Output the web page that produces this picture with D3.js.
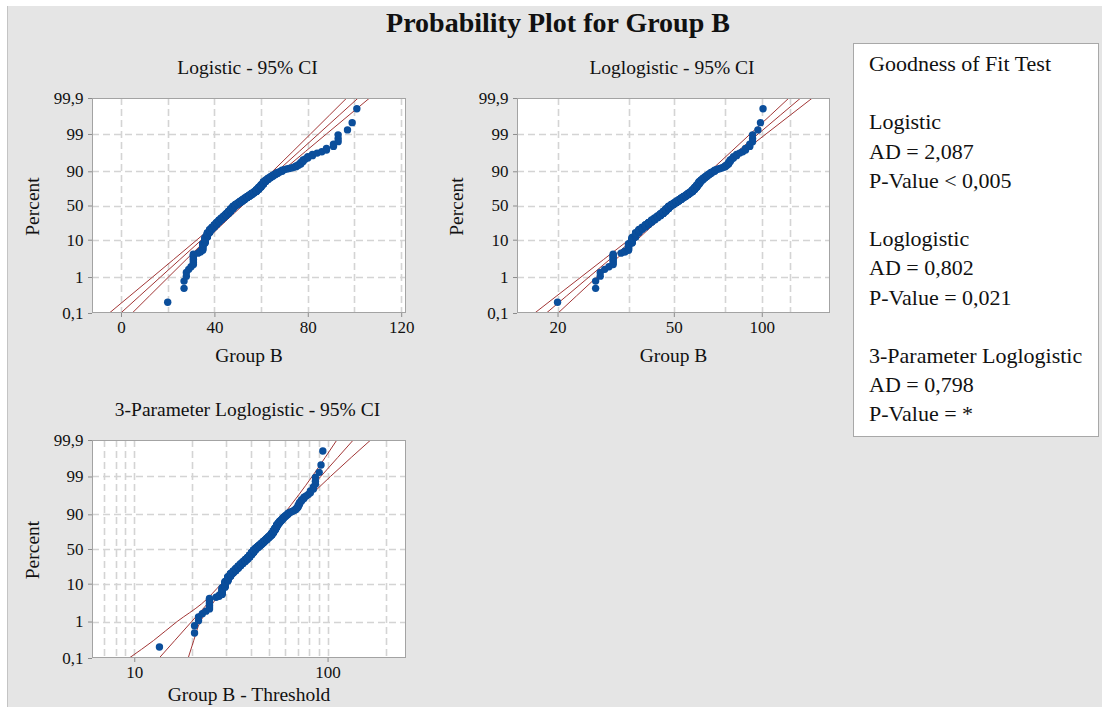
<!DOCTYPE html>
<html>
<head>
<meta charset="utf-8">
<script src="https://cdn.jsdelivr.net/npm/d3@7"></script>
<style>
  body { margin: 0; background: #ffffff; }
  svg { display: block; }
  text { font-family: "Liberation Serif", "Times New Roman", serif; fill: #111; }
</style>
</head>
<body>
<svg id="chart" width="1102" height="707"></svg>
<script>
// ---- Group B sample: distinct values and how many observations share each ----
const groupBValues = [20,27,28,29,30,31,33,34,35,36,37,38,39,40,41,42,43,44,45,46,47,48,49,50,51,52,53,54,55,56,57,58,59,60,61,62,63,64,65,66,67,68,69,70,71,72,73,74,75,76,77,78,79,80,82,84,86,88,91,93,97,99,101];
const groupBCounts = [1,2,2,1,1,8,1,2,10,12,12,10,8,9,10,10,10,10,11,13,14,14,10,9,9,9,9,8,8,8,7,10,10,10,10,6,5,4,4,3,3,2,3,1,1,1,1,1,2,2,3,3,1,2,2,1,1,2,2,3,1,1,1];
const threshold3P = 6.5;

// ---- Percent axis ----
const percentTicks = [0.1, 1, 10, 50, 90, 99, 99.9];
const percentTickLabels = ["0,1", "1", "10", "50", "90", "99", "99,9"];
const percentGrid = [1, 10, 50, 90, 99];

// ---- Fitted lines and 95% confidence bands (x at each percent level) ----
const ciLevels = [0.1, 0.3, 1, 3, 10, 30, 50, 70, 90, 97, 99, 99.7, 99.9];
const logisticFit   = [-0.08, 8.02, 16.93, 25.17, 34.58, 44.52, 50.75, 56.98, 66.92, 76.33, 84.57, 93.48, 101.58];
const logisticLower = [-4.98, 3.84, 13.53, 22.46, 32.59, 43.10, 49.45, 55.56, 64.93, 73.62, 81.17, 89.30, 96.68];
const logisticUpper = [4.82, 12.20, 20.33, 27.88, 36.57, 45.94, 52.05, 58.40, 68.91, 79.04, 87.97, 97.66, 106.48];

const loglogisticFit   = [18.32, 21.49, 25.62, 30.13, 36.28, 44.12, 49.89, 56.41, 68.62, 82.60, 97.16, 115.8, 135.9];
const loglogisticLower = [16.71, 19.88, 24.07, 28.72, 35.14, 43.35, 49.20, 55.42, 66.45, 78.75, 91.31, 107.2, 123.9];
const loglogisticUpper = [20.09, 23.23, 27.26, 31.61, 37.46, 44.91, 50.58, 57.42, 70.85, 86.66, 103.4, 125.2, 149.0];

const threeParamFit   = [13.46, 16.18, 19.82, 23.89, 29.60, 37.10, 42.76, 49.27, 61.78, 76.47, 92.26, 113.0, 135.8];
const threeParamLower = [9.42, 12.56, 16.67, 22.30, 28.27, 36.26, 41.98, 48.15, 59.26, 71.39, 83.18, 97.27, 111.7];
const threeParamUpper = [19.01, 20.30, 21.98, 25.32, 30.64, 37.97, 43.55, 50.42, 64.68, 82.91, 103.5, 132.7, 167.1];

// ---- Axis ticks ----
const logisticXTicks = [0, 40, 80, 120];
const logisticXGrid = [0, 20, 40, 60, 80, 100, 120];
const loglogisticXTicks = [20, 50, 100];
const loglogisticXGrid = [20, 35, 50, 75, 100, 125];
const threeParamXTicks = [10, 100];
const threeParamXGrid = [7, 8, 9, 10, 20, 30, 40, 50, 60, 70, 80, 90, 100, 200];

// ---- Goodness of fit summary ----
const goodnessLines = [
  "Goodness of Fit Test", "",
  "Logistic", "AD = 2,087", "P-Value < 0,005", "",
  "Loglogistic", "AD = 0,802", "P-Value = 0,021", "",
  "3-Parameter Loglogistic", "AD = 0,798", "P-Value = *"
];

// expand the frequency table into the sorted sample
const sample = [];
groupBValues.forEach((v, k) => { for (let j = 0; j < groupBCounts[k]; j++) sample.push(v); });
const n = sample.length;
// median-rank plotting positions (percent)
const points = sample.map((v, i) => ({ v, p: 100 * (i + 1 - 0.3) / (n + 0.4) }));

const logit = p => Math.log(p / (100 - p));

const svg = d3.select("#chart");
const W = 1102, H = 707;

// page background
svg.append("rect").attr("x", 0).attr("y", 0).attr("width", W).attr("height", H).attr("fill", "#ffffff");
svg.append("rect").attr("x", 7).attr("y", 6).attr("width", W - 7).attr("height", H - 6).attr("fill", "#e5e5e5");
svg.append("line").attr("x1", 7.5).attr("x2", 7.5).attr("y1", 6).attr("y2", H).attr("stroke", "#c4c4c4");

svg.append("text")
  .attr("x", 558).attr("y", 32)
  .attr("text-anchor", "middle")
  .style("font-size", "28px").style("font-weight", "bold")
  .text("Probability Plot for Group B");

const panels = [
  {
    id: "p1", title: "Logistic - 95% CI", xLabel: "Group B",
    left: 92, right: 406, top: 98, bottom: 313, titleY: 74, labelY: 362, percentX: 39,
    x: d3.scaleLinear().domain([-12.42, 122.06]),
    xTicks: logisticXTicks, xGrid: logisticXGrid, shift: 0,
    fit: logisticFit, lower: logisticLower, upper: logisticUpper
  },
  {
    id: "p2", title: "Loglogistic - 95% CI", xLabel: "Group B",
    left: 517, right: 830, top: 98, bottom: 313, titleY: 74, labelY: 362, percentX: 463,
    x: d3.scaleLog().domain([14.53, 171.2]),
    xTicks: loglogisticXTicks, xGrid: loglogisticXGrid, shift: 0,
    fit: loglogisticFit, lower: loglogisticLower, upper: loglogisticUpper
  },
  {
    id: "p3", title: "3-Parameter Loglogistic - 95% CI", xLabel: "Group B - Threshold",
    left: 92, right: 406, top: 440, bottom: 658, titleY: 416, labelY: 701, percentX: 39,
    x: d3.scaleLog().domain([6.045, 254.5]),
    xTicks: threeParamXTicks, xGrid: threeParamXGrid, shift: threshold3P,
    fit: threeParamFit, lower: threeParamLower, upper: threeParamUpper
  }
];

panels.forEach(cfg => {
  const x = cfg.x.range([cfg.left, cfg.right]);
  const y = d3.scaleLinear().domain([logit(0.1), logit(99.9)]).range([cfg.bottom, cfg.top]);
  const g = svg.append("g");
  const cx = (cfg.left + cfg.right) / 2;

  g.append("text")
    .attr("x", cx - 1.5).attr("y", cfg.titleY)
    .attr("text-anchor", "middle")
    .style("font-size", "19.5px")
    .text(cfg.title);

  g.append("rect")
    .attr("x", cfg.left).attr("y", cfg.top)
    .attr("width", cfg.right - cfg.left).attr("height", cfg.bottom - cfg.top)
    .attr("fill", "#ffffff");

  g.append("clipPath").attr("id", "clip-" + cfg.id)
    .append("rect")
    .attr("x", cfg.left).attr("y", cfg.top)
    .attr("width", cfg.right - cfg.left).attr("height", cfg.bottom - cfg.top);

  const grid = g.append("g")
    .attr("stroke", "#d4d4d4").attr("stroke-width", 1.6)
    .attr("stroke-dasharray", "7,4").attr("fill", "none");
  grid.selectAll("line.v").data(cfg.xGrid).join("line")
    .attr("class", "v")
    .attr("x1", d => Math.round(x(d)) + 0.5).attr("x2", d => Math.round(x(d)) + 0.5)
    .attr("y1", cfg.top).attr("y2", cfg.bottom);
  grid.selectAll("line.h").data(percentGrid).join("line")
    .attr("class", "h")
    .attr("y1", d => Math.round(y(logit(d))) + 0.5).attr("y2", d => Math.round(y(logit(d))) + 0.5)
    .attr("x1", cfg.left).attr("x2", cfg.right);

  const plot = g.append("g").attr("clip-path", "url(#clip-" + cfg.id + ")");
  const line = d3.line()
    .x(d => x(d.v))
    .y(d => y(logit(d.p)))
    .curve(d3.curveMonotoneY);
  [cfg.lower, cfg.fit, cfg.upper].forEach(arr => {
    const pts = ciLevels.map((p, k) => ({ p, v: arr[k] }));
    plot.append("path")
      .datum(pts)
      .attr("d", line)
      .attr("fill", "none")
      .attr("stroke", "#a23636")
      .attr("stroke-width", 1);
  });

  plot.selectAll("circle").data(points).join("circle")
    .attr("cx", d => x(d.v - cfg.shift))
    .attr("cy", d => y(logit(d.p)))
    .attr("r", 3.7)
    .attr("fill", "#0b4e9b");

  g.append("rect")
    .attr("x", cfg.left + 0.5).attr("y", cfg.top + 0.5)
    .attr("width", cfg.right - cfg.left - 1).attr("height", cfg.bottom - cfg.top - 1)
    .attr("fill", "none").attr("stroke", "#a3a3a3");

  const xAxis = d3.axisBottom(x)
    .tickValues(cfg.xTicks)
    .tickFormat(d3.format("d"))
    .tickSize(4).tickPadding(4).tickSizeOuter(0);
  const xa = g.append("g").attr("transform", `translate(0,${cfg.bottom})`).call(xAxis);

  const yAxis = d3.axisLeft(y)
    .tickValues(percentTicks.map(logit))
    .tickFormat((d, i) => percentTickLabels[i])
    .tickSize(4).tickPadding(4.5).tickSizeOuter(0);
  const ya = g.append("g").attr("transform", `translate(${cfg.left},0)`).call(yAxis);

  [xa, ya].forEach(a => {
    a.select(".domain").remove();
    a.selectAll(".tick line").attr("stroke", "#8c8c8c");
    a.selectAll(".tick text")
      .style("font-family", "'Liberation Serif', 'Times New Roman', serif")
      .style("font-size", "17px").attr("fill", "#111");
  });

  g.append("text")
    .attr("x", cx).attr("y", cfg.labelY)
    .attr("text-anchor", "middle")
    .style("font-size", "19.5px")
    .text(cfg.xLabel);

  g.append("text")
    .attr("transform", `translate(${cfg.percentX},${(cfg.top + cfg.bottom) / 2 + 1}) rotate(-90)`)
    .attr("text-anchor", "middle")
    .style("font-size", "19.5px")
    .text("Percent");
});

// goodness of fit box
const legend = svg.append("g");
legend.append("rect")
  .attr("x", 853.5).attr("y", 43.5).attr("width", 245).attr("height", 393)
  .attr("fill", "#ffffff").attr("stroke", "#a8a8a8");
legend.selectAll("text").data(goodnessLines).join("text")
  .attr("x", 869)
  .attr("y", (d, i) => 71 + i * 29.2)
  .style("font-size", "22px")
  .text(d => d);
</script>
</body>
</html>
